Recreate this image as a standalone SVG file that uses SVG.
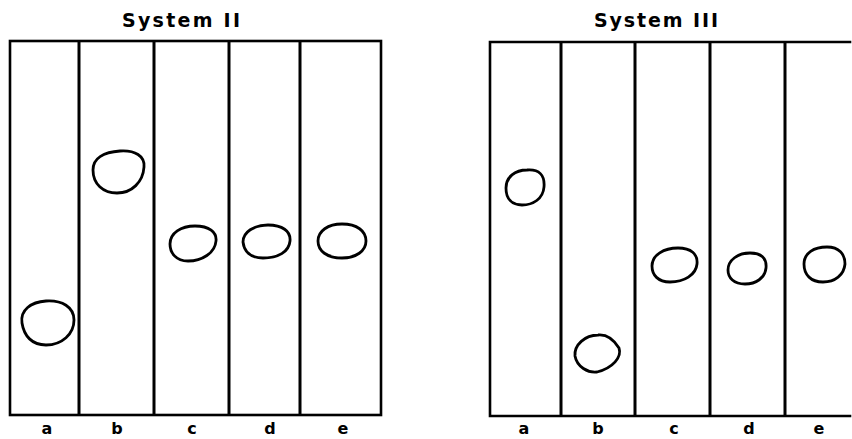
<svg xmlns="http://www.w3.org/2000/svg" width="852" height="439" viewBox="0 0 852 439">
<style>
.frame{fill:none;stroke:#000;stroke-width:2.6;stroke-linecap:square}
.lane{stroke:#000;stroke-width:3}
.spot{fill:none;stroke:#000;stroke-width:2.8}
.title{font-family:"DejaVu Sans","Liberation Sans",sans-serif;font-weight:bold;font-size:19px;fill:#000}
.lbl{font-family:"DejaVu Sans","Liberation Sans",sans-serif;font-weight:bold;font-size:16px;fill:#000;text-anchor:middle}
</style>
<rect width="852" height="439" fill="#fff"/>
<g id="system2">
  <text class="title" x="122" y="27" textLength="118" lengthAdjust="spacing">System II</text>
  <rect class="frame" x="10" y="41" width="371" height="374"/>
  <line class="lane" x1="79" y1="41" x2="79" y2="415"/>
  <line class="lane" x1="154" y1="41" x2="154" y2="415"/>
  <line class="lane" x1="229" y1="41" x2="229" y2="415"/>
  <line class="lane" x1="300" y1="41" x2="300" y2="415"/>
  <g id="s2-a"><path class="spot" d="M46 301 C62 300 74 307 74 320 C74 334 62 345 46 345 C32 345 24 336 22 323 C20 310 31 302 46 301 Z"/><text class="lbl" x="47" y="434">a</text></g>
  <g id="s2-b"><path class="spot" d="M120 151 C135 150 145 156 144 167 C143 182 132 193 117 193 C103 193 93 184 93 170 C93 158 104 152 120 151 Z"/><text class="lbl" x="117" y="434">b</text></g>
  <g id="s2-c"><path class="spot" d="M195 226 C209 226 217 232 216 241 C215 253 202 261 188 261 C176 261 170 253 170 244 C170 233 181 226 195 226 Z"/><text class="lbl" x="192" y="434">c</text></g>
  <g id="s2-d"><path class="spot" d="M268 225 C282 225 291 231 290 241 C289 252 278 258 263 258 C250 258 244 251 243 242 C243 232 254 225 268 225 Z"/><text class="lbl" x="270" y="434">d</text></g>
  <g id="s2-e"><path class="spot" d="M342 224 C357 224 366 231 366 241 C366 251 356 258 342 258 C327 258 318 251 318 241 C318 231 328 224 342 224 Z"/><text class="lbl" x="343" y="434">e</text></g>
</g>
<g id="system3">
  <text class="title" x="594" y="27" textLength="124" lengthAdjust="spacing">System III</text>
  <polyline class="frame" points="850,42 490,42 490,416 850,416"/>
  <line class="lane" x1="561" y1="42" x2="561" y2="416"/>
  <line class="lane" x1="635" y1="42" x2="635" y2="416"/>
  <line class="lane" x1="710" y1="42" x2="710" y2="416"/>
  <line class="lane" x1="785" y1="42" x2="785" y2="416"/>
  <g id="s3-a"><path class="spot" d="M527 170 C539 169 545 175 544 187 C543 199 533 205 522 205 C512 205 506 199 506 188 C506 177 515 170 527 170 Z"/><text class="lbl" x="524" y="434">a</text></g>
  <g id="s3-b"><path class="spot" d="M598 335 C608 334 614 340 619 348 C622 357 613 368 597 372 C588 373 577 367 575 356 C574 345 585 335 598 335 Z"/><text class="lbl" x="598" y="434">b</text></g>
  <g id="s3-c"><path class="spot" d="M678 248 C691 248 698 254 697 264 C696 275 684 282 670 282 C658 282 652 275 652 266 C652 255 664 248 678 248 Z"/><text class="lbl" x="674" y="434">c</text></g>
  <g id="s3-d"><path class="spot" d="M750 253 C761 253 767 258 766 268 C765 278 756 284 745 284 C734 284 728 278 728 270 C728 260 738 253 750 253 Z"/><text class="lbl" x="749" y="434">d</text></g>
  <g id="s3-e"><path class="spot" d="M827 247 C839 247 845 254 845 264 C844 275 835 282 823 282 C811 282 804 275 804 264 C804 253 814 247 827 247 Z"/><text class="lbl" x="819" y="434">e</text></g>
</g>
</svg>
